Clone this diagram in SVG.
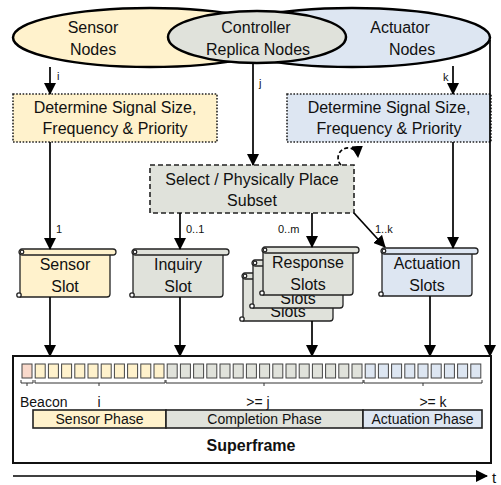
<svg xmlns="http://www.w3.org/2000/svg" width="501" height="485" viewBox="0 0 501 485">
<style>
text{font-family:"Liberation Sans",Arial,sans-serif;fill:#111}
.t16{font-size:16px;text-anchor:middle}
.t14{font-size:14px}
.sm{font-size:11px}
.ell{stroke:#000;stroke-width:2.5}
.dot{stroke:#222;stroke-width:1.6;stroke-dasharray:1.6 1.6}
.ln{stroke:#000;stroke-width:1.7;fill:none}
.sc{stroke:#222;stroke-width:1.3}
.slot{stroke:#444;stroke-width:1}
.br{stroke:#333;stroke-width:1;fill:none}
.ph{stroke:#222;stroke-width:1.6}
.yel{fill:#fff2cc}.gry{fill:#e0e2db}.blu{fill:#dde6f2}
</style>
<defs>
<marker id="ah" markerUnits="userSpaceOnUse" markerWidth="12" markerHeight="12" viewBox="0 0 12 12" refX="11" refY="6" orient="auto">
<path d="M0,0 L12,6 L0,12 z" fill="#000"/>
</marker>
<g id="scroll">
<path class="sc" d="M0 3 L0 48 L87 48 Q90 48 90 45 L90 5"/>
<rect class="sc" x="-1" y="0" width="97" height="6" rx="3"/>
<circle class="sc" cx="2" cy="3" r="1.8" fill="#fff"/>
<circle class="sc" cx="-1" cy="46" r="2.2" fill="#fff"/>
</g>
</defs>

<g id="sensor-nodes">
<ellipse class="ell yel" cx="150" cy="37.5" rx="137" ry="29.5"/>
</g>
<g id="actuator-nodes">
<ellipse class="ell blu" cx="352" cy="37.5" rx="138" ry="29.5"/>
</g>
<g id="controller-nodes">
<ellipse class="ell gry" cx="257" cy="37" rx="89" ry="26"/>
</g>
<g id="node-labels">
<text class="t16" x="93" y="33">Sensor</text>
<text class="t16" x="93" y="55">Nodes</text>
<text class="t16" x="256" y="33">Controller</text>
<text class="t16" x="258" y="55">Replica Nodes</text>
<text class="t16" x="400" y="33">Actuator</text>
<text class="t16" x="412" y="55">Nodes</text>
</g>

<g id="determine-sensor">
<rect class="dot yel" x="13" y="94" width="204" height="48"/>
<text class="t16" x="115" y="113">Determine Signal Size,</text>
<text class="t16" x="115" y="134">Frequency &amp; Priority</text>
</g>
<g id="determine-actuator">
<rect class="dot blu" x="287" y="94" width="204" height="48"/>
<text class="t16" x="389" y="113">Determine Signal Size,</text>
<text class="t16" x="389" y="134">Frequency &amp; Priority</text>
</g>
<g id="select-subset">
<rect x="150" y="165" width="204" height="48" class="gry" stroke="#222" stroke-width="1.6" stroke-dasharray="5 3"/>
<text class="t16" x="252" y="185">Select / Physically Place</text>
<text class="t16" x="252" y="206">Subset</text>
</g>

<g id="sensor-slot">
<use href="#scroll" x="20" y="249" class="yel"/>
<text class="t16" x="65" y="270">Sensor</text>
<text class="t16" x="65" y="292">Slot</text>
</g>
<g id="inquiry-slot">
<use href="#scroll" x="133" y="249" class="gry"/>
<text class="t16" x="178" y="270">Inquiry</text>
<text class="t16" x="178" y="292">Slot</text>
</g>
<g id="response-slots">
<use href="#scroll" x="243" y="273" class="gry"/>
<text class="t16" x="288" y="317">Slots</text>
<use href="#scroll" x="253" y="260" class="gry"/>
<text class="t16" x="298" y="304">Slots</text>
<use href="#scroll" x="263" y="247" class="gry"/>
<text class="t16" x="308" y="268">Response</text>
<text class="t16" x="308" y="290">Slots</text>
</g>
<g id="actuation-slots">
<use href="#scroll" x="382" y="248" class="blu"/>
<text class="t16" x="427" y="269">Actuation</text>
<text class="t16" x="427" y="291">Slots</text>
</g>

<g id="connectors">
<line class="ln" x1="50" y1="67" x2="50" y2="94" marker-end="url(#ah)"/>
<line class="ln" x1="50" y1="142" x2="50" y2="249" marker-end="url(#ah)"/>
<line class="ln" x1="253" y1="63" x2="253" y2="165" marker-end="url(#ah)"/>
<line class="ln" x1="453" y1="66" x2="453" y2="94" marker-end="url(#ah)"/>
<line class="ln" x1="453" y1="142" x2="453" y2="248" marker-end="url(#ah)"/>
<line class="ln" x1="490" y1="40" x2="490" y2="356" marker-end="url(#ah)"/>
<line class="ln" x1="180" y1="213" x2="180" y2="249" marker-end="url(#ah)"/>
<line class="ln" x1="312" y1="213" x2="312" y2="247" marker-end="url(#ah)"/>
<line class="ln" x1="354" y1="213" x2="385" y2="247" marker-end="url(#ah)"/>
<path class="ln" d="M341 165 A10 10 0 1 1 358 157" stroke-dasharray="4 2.5" marker-end="url(#ah)"/>
<line class="ln" x1="50" y1="297" x2="50" y2="356" marker-end="url(#ah)"/>
<line class="ln" x1="180" y1="297" x2="180" y2="356" marker-end="url(#ah)"/>
<line class="ln" x1="312" y1="321" x2="312" y2="356" marker-end="url(#ah)"/>
<line class="ln" x1="430" y1="296" x2="430" y2="356" marker-end="url(#ah)"/>
<line class="ln" x1="13" y1="476" x2="487" y2="476" stroke-width="2" marker-end="url(#ah)"/>
<text class="sm" x="57" y="80">i</text>
<text class="sm" x="56" y="233">1</text>
<text class="sm" x="259" y="87">j</text>
<text class="sm" x="443" y="81">k</text>
<text class="sm" x="186" y="233">0..1</text>
<text class="sm" x="278" y="233">0..m</text>
<text class="sm" x="375" y="233">1..k</text>
<text x="492" y="483" style="font-size:15px">t</text>
</g>

<g id="superframe">
<rect x="13" y="356" width="478" height="107" fill="#fff" stroke="#111" stroke-width="2"/>
<g id="slots">
<rect class="slot" x="22" y="364" width="10" height="14" fill="#f9d9cb"/>
<rect class="slot yel" x="35.2" y="364" width="10" height="14"/>
<rect class="slot yel" x="48.4" y="364" width="10" height="14"/>
<rect class="slot yel" x="61.6" y="364" width="10" height="14"/>
<rect class="slot yel" x="74.8" y="364" width="10" height="14"/>
<rect class="slot yel" x="88" y="364" width="10" height="14"/>
<rect class="slot yel" x="101.2" y="364" width="10" height="14"/>
<rect class="slot yel" x="114.4" y="364" width="10" height="14"/>
<rect class="slot yel" x="127.6" y="364" width="10" height="14"/>
<rect class="slot yel" x="140.8" y="364" width="10" height="14"/>
<rect class="slot yel" x="154" y="364" width="10" height="14"/>
<rect class="slot gry" x="167.2" y="364" width="10" height="14"/>
<rect class="slot gry" x="180.4" y="364" width="10" height="14"/>
<rect class="slot gry" x="193.6" y="364" width="10" height="14"/>
<rect class="slot gry" x="206.8" y="364" width="10" height="14"/>
<rect class="slot gry" x="220" y="364" width="10" height="14"/>
<rect class="slot gry" x="233.2" y="364" width="10" height="14"/>
<rect class="slot gry" x="246.4" y="364" width="10" height="14"/>
<rect class="slot gry" x="259.6" y="364" width="10" height="14"/>
<rect class="slot gry" x="272.8" y="364" width="10" height="14"/>
<rect class="slot gry" x="286" y="364" width="10" height="14"/>
<rect class="slot gry" x="299.2" y="364" width="10" height="14"/>
<rect class="slot gry" x="312.4" y="364" width="10" height="14"/>
<rect class="slot gry" x="325.6" y="364" width="10" height="14"/>
<rect class="slot gry" x="338.8" y="364" width="10" height="14"/>
<rect class="slot gry" x="352" y="364" width="10" height="14"/>
<rect class="slot blu" x="365.2" y="364" width="10" height="14"/>
<rect class="slot blu" x="378.4" y="364" width="10" height="14"/>
<rect class="slot blu" x="391.6" y="364" width="10" height="14"/>
<rect class="slot blu" x="404.8" y="364" width="10" height="14"/>
<rect class="slot blu" x="418" y="364" width="10" height="14"/>
<rect class="slot blu" x="431.2" y="364" width="10" height="14"/>
<rect class="slot blu" x="444.4" y="364" width="10" height="14"/>
<rect class="slot blu" x="457.6" y="364" width="10" height="14"/>
<rect class="slot blu" x="470.8" y="364" width="10" height="14"/>
</g>
<g id="braces">
<path class="br" d="M21 380 V383 H33 V380 M27 383 V386"/>
<path class="br" d="M35 380 V383 H165 V380 M99 383 V386"/>
<path class="br" d="M166 380 V383 H363 V380 M264 383 V386"/>
<path class="br" d="M364 380 V383 H482 V380 M423 383 V386"/>
</g>
<text class="t14" x="20" y="407">Beacon</text>
<text class="t14" x="99" y="407" text-anchor="middle">i</text>
<text class="t14" x="258" y="407" text-anchor="middle">&gt;= j</text>
<text class="t14" x="433" y="407" text-anchor="middle">&gt;= k</text>
<rect class="ph yel" x="33" y="410" width="133" height="18"/>
<rect class="ph gry" x="166" y="410" width="197" height="18"/>
<rect class="ph blu" x="363" y="410" width="119" height="18"/>
<text class="t14" x="99.5" y="424" text-anchor="middle">Sensor Phase</text>
<text class="t14" x="264.5" y="424" text-anchor="middle">Completion Phase</text>
<text class="t14" x="422.5" y="424" text-anchor="middle">Actuation Phase</text>
<text x="251" y="451" style="font-size:16px;font-weight:bold;text-anchor:middle">Superframe</text>
</g>
</svg>
